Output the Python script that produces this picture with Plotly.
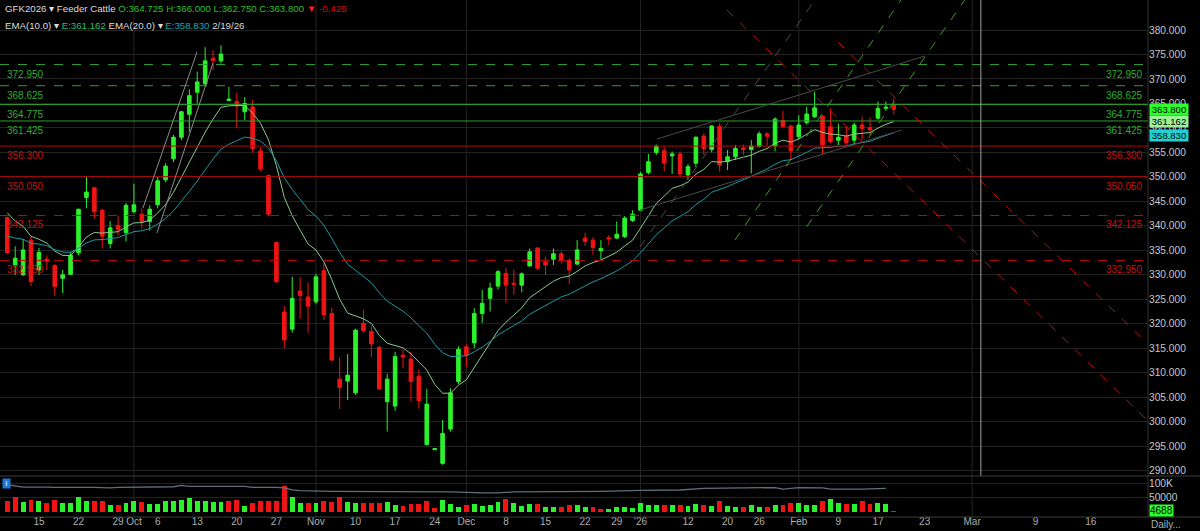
import plotly.graph_objects as go

# ---------------- data ----------------
opens = [341.7,332.0,330.0,337.1,331.0,333.2,331.9,329.3,330.1,334.5,345.8,347.8,343.2,336.4,340.1,338.6,342.9,342.4,340.9,344.3,
         349.4,353.7,358.1,362.8,367.3,369.0,374.2,373.7,365.6,365.4,363.3,364.3,355.3,350.3,336.6,322.4,318.9,326.7,325.5,324.5,
         330.85,322.1,308.7,308.3,305.9,320.1,318.4,315.2,304.1,303.2,313.6,312.8,309.3,295.3,294.3,291.5,298.5,308.2,315.3,316.1,
         322.1,325.2,327.7,330.3,328.3,327.9,331.8,335.5,332.6,333.2,334.3,332.9,332.2,337.5,337.1,334.9,337.6,337.5,337.8,341.1,
         343.2,350.9,355.0,355.35,354.3,354.7,350.4,352.8,358.35,355.6,360.3,353.1,354.1,355.9,355.6,356.2,358.8,356.3,361.5,360.4,
         358.2,361.1,362.3,362.4,360.25,357.5,358.35,357.5,360.6,360.1,362.0,364.0,364.725]
highs = [341.9,335.8,337.3,337.8,335.5,334.0,332.2,331.0,334.7,343.5,350.0,348.0,343.5,341.0,342.0,344.7,348.6,343.6,344.2,350.0,
         352.8,358.6,363.5,367.9,371.5,376.5,375.9,376.9,368.4,367.2,366.3,365.7,356.0,350.5,336.8,323.6,329.6,329.5,328.4,330.2,
         332.4,323.3,313.1,313.8,319.0,322.8,319.6,315.5,309.8,314.3,314.8,314.3,310.7,306.7,294.5,300.4,306.8,315.4,315.8,323.2,
         326.9,328.4,331.0,331.4,331.1,330.5,335.4,335.6,333.6,335.4,334.8,333.4,337.1,338.6,337.7,337.1,338.1,340.9,342.0,343.2,
         351.0,354.7,356.6,356.2,355.2,355.2,352.6,358.3,358.9,360.6,361.0,355.5,356.5,356.6,357.5,359.3,359.2,362.2,363.5,360.6,
         362.6,364.3,367.4,362.6,364.0,360.9,360.3,361.1,362.3,362.2,365.4,365.4,366.0]
lows = [334.2,330.0,329.8,327.7,330.0,331.0,325.7,326.3,330.0,334.0,343.6,341.5,335.4,335.4,338.0,336.8,342.5,339.3,339.0,343.6,
        348.9,353.0,357.5,359.2,365.0,368.6,371.8,373.2,365.6,359.9,361.6,355.0,351.1,342.0,328.4,315.0,318.2,321.1,318.2,324.0,
        320.8,312.4,302.6,304.4,305.5,318.2,313.2,306.5,298.0,302.2,310.9,304.1,302.7,295.2,294.3,291.2,298.0,307.7,311.2,315.0,
        320.2,322.5,327.0,324.3,325.9,326.4,331.8,331.0,330.0,332.0,332.3,328.1,332.0,335.9,334.1,333.2,336.1,337.3,337.5,340.8,
        343.0,350.5,354.5,351.1,350.6,350.0,349.4,352.0,354.5,355.0,351.1,351.4,353.5,354.5,350.7,356.0,356.3,355.2,360.0,353.5,
        357.7,360.7,362.0,354.5,356.9,356.5,356.5,356.5,357.5,358.5,361.7,363.5,362.75]
closes = [334.5,333.4,335.1,328.6,334.6,332.8,327.6,330.0,334.0,343.4,346.9,342.9,337.9,339.6,339.2,344.2,344.3,340.9,343.4,349.2,
          352.2,358.1,363.3,366.6,369.4,373.7,373.8,375.1,365.9,364.5,365.0,355.8,351.6,342.4,328.6,316.7,325.2,325.8,323.6,329.6,
          321.8,312.6,307.0,309.5,318.7,318.6,315.9,306.7,308.7,313.3,313.2,308.2,304.3,303.6,294.5,297.6,305.9,314.8,313.6,322.1,
          324.2,327.3,330.65,327.9,328.1,330.2,334.7,331.35,332.0,334.3,332.9,331.0,335.1,336.8,335.6,335.4,337.3,338.3,341.6,342.4,
          350.6,353.1,356.3,352.8,354.7,350.6,352.1,358.1,355.8,360.4,352.4,354.1,355.8,355.6,356.3,358.8,358.3,361.8,360.3,355.35,
          360.6,362.85,364.1,356.5,357.2,358.1,357.0,360.6,359.9,359.6,364.0,364.225,363.8]
volumes = [39500,51000,35000,42000,39500,32500,42000,32500,30000,51000,39500,37000,39500,25600,23000,32500,37000,35000,28000,28000,
           37000,39500,42000,49000,39500,39500,35000,35000,39500,42000,21000,32500,37000,37000,37000,90700,53500,32500,32500,30000,
           39500,35000,51000,35000,32500,30000,30000,32500,35000,25600,21000,28000,28000,37000,14000,42000,28000,18600,25600,28000,
           21000,25600,35000,44000,30000,21000,28000,28000,18600,18600,18600,23000,23000,18600,16000,11600,11600,18600,16000,14000,
           30000,23000,23000,23000,25600,25600,21000,28000,25600,21000,39500,21000,18600,18600,25600,18600,16000,23000,23000,32500,
           32500,23000,25600,37000,44000,30000,28000,28000,37000,28000,30000,28000,4688]
# open interest line in the volume pane (bar index, value)
oi_idx = [0,1,2,5,6,11,12,13,14,15,16,21,22,23,30,31,34,35,36,37,41,52,53,56,60,62,64,75,80,85,88,94,97,98,99,100,103,104,108,111]
oi_val = [95000,92000,87000,87000,86000,86000,84000,84000,86000,86000,88000,88000,93000,89500,89500,86000,86000,84000,77000,74400,
          72000,72000,70000,70000,66300,66300,70000,72000,75600,76700,82600,85000,85000,80000,82000,85000,84000,80000,80000,82600]

# x-axis labels (bar index positions)
tick_pos = [4,9,14,16,19,24,29,34,39,44,49,54,58,63,68,73,77,80,86,91,95,100,105,110,115.9,121.9,129.9,136.9]
tick_text = ["15","22","29","Oct","6","13","20","27","Nov","10","17","24","Dec","8","15","22","29","'26","12","20","26",
             "Feb","9","17","23","Mar","9","16"]
month_pos = [16,39,58,80,100,121.9]
cursor_pos = 123.0
price_ticks = list(range(290, 381, 5))

# horizontal levels
levels = [372.95, 368.625, 364.775, 361.425, 356.3, 350.05, 342.125, 332.95]
level_labels = ["372.950","368.625","364.775","361.425","356.300","350.050","342.125","332.950"]
level_kind = ["g-dash","g-dash","g-solid","g-solid","r-solid","r-solid","r-dash","r-dash"]

# drawn trend lines: (index0, price0, index1, price1, kind)
trend_lines = [
    (17.14, 343.65, 23.97, 375.51, "lgray"),
    (18.91, 338.55, 25.99, 373.26, "lgray"),
    (82.08, 357.74, 115.94, 374.69, "dgray"),
    (79.94, 343.24, 113.0, 359.58, "dgray"),
    (79.94, 335.69, 102.04, 386.13, "dgray-dash"),
    (91.94, 337.12, 112.9, 386.13, "green-dash"),
    (101.0, 339.83, 120.96, 386.13, "green-dash"),
    (90.93, 384.08, 144.1, 300.22, "red-dash"),
    (104.95, 377.55, 144.1, 315.88, "red-dash"),
]

last_close, ema10_last, ema20_last, last_vol = 363.800, 361.162, 358.830, 4688

# ---------------- derived ----------------
def ema(vals, n, seed):
    a = 2.0 / (n + 1)
    out, e = [], seed
    for v in vals:
        e = a * v + (1 - a) * e
        out.append(e)
    return out

idx = list(range(len(closes)))
ema10 = ema(closes, 10, 344.5)
ema20 = ema(closes, 20, 338.3)
UP, DN = "#2cf22c", "#f01414"
vol_colors = [DN if i == 0 else (UP if closes[i] >= closes[i - 1] else DN) for i in idx]

FONT = "Liberation Sans"
fig = go.Figure()
fig.add_trace(go.Candlestick(
    x=idx, open=opens, high=highs, low=lows, close=closes,
    increasing=dict(line=dict(color=UP, width=1), fillcolor=UP),
    decreasing=dict(line=dict(color=DN, width=1), fillcolor=DN),
    whiskerwidth=0, xaxis="x", yaxis="y", showlegend=False, hoverinfo="skip"))
fig.add_trace(go.Scatter(x=idx, y=ema10, mode="lines", line=dict(color="#86cc8e", width=1),
                         xaxis="x", yaxis="y", showlegend=False, hoverinfo="skip"))
fig.add_trace(go.Scatter(x=idx, y=ema20, mode="lines", line=dict(color="#1b9aa6", width=1),
                         xaxis="x", yaxis="y", showlegend=False, hoverinfo="skip"))
fig.add_trace(go.Bar(x=idx, y=volumes, marker=dict(color=vol_colors, line=dict(width=0)), width=0.62,
                     xaxis="x", yaxis="y2", showlegend=False, hoverinfo="skip"))
fig.add_trace(go.Scatter(x=oi_idx, y=oi_val, mode="lines", line=dict(color="#5d7078", width=1.3),
                         xaxis="x", yaxis="y2", showlegend=False, hoverinfo="skip"))

shapes = []
styles = {
    "g-dash": dict(color="#2f9f2f", width=1, dash="dash"),
    "g-solid": dict(color="#2f9f2f", width=1),
    "r-solid": dict(color="#b00808", width=1),
    "r-dash": dict(color="#c00a0a", width=1, dash="dash"),
}
annots = []
for lv, lab, kind in zip(levels, level_labels, level_kind):
    shapes.append(dict(type="line", xref="paper", x0=0, x1=1, yref="y", y0=lv, y1=lv, line=styles[kind], layer="above"))
    col = "#2fae2f" if kind.startswith("g") else "#c41212"
    for xp, xa in ((0.004, "left"), (0.9975, "right")):
        annots.append(dict(xref="paper", x=xp, xanchor=xa, yref="y", y=lv, yanchor="top", yshift=-2,
                           text=lab, showarrow=False, font=dict(family=FONT, size=10, color=col)))

tl_styles = {
    "lgray": dict(color="#8c8c8c", width=1),
    "dgray": dict(color="#4a4a4a", width=1),
    "dgray-dash": dict(color="#4a4a4a", width=1, dash="dash"),
    "green-dash": dict(color="#3c9e1e", width=1, dash="dash"),
    "red-dash": dict(color="#c41010", width=1, dash="dash"),
}
for x0, y0, x1, y1, kind in trend_lines:
    shapes.append(dict(type="line", xref="x", yref="y", x0=x0, y0=y0, x1=x1, y1=y1, line=tl_styles[kind], layer="above"))

for m in month_pos:
    shapes.append(dict(type="line", xref="x", x0=m, x1=m, yref="paper", y0=0, y1=1,
                       line=dict(color="#242424", width=1), layer="below"))
shapes.append(dict(type="line", xref="x", x0=cursor_pos, x1=cursor_pos, yref="y domain", y0=0, y1=1,
                   line=dict(color="#a0a0a0", width=1), layer="above"))
# pane separators
shapes.append(dict(type="line", xref="paper", x0=0, x1=1.046, yref="paper", y0=0.0793, y1=0.0793,
                   line=dict(color="#3c3c3c", width=1)))
shapes.append(dict(type="line", xref="paper", x0=0, x1=1.046, yref="paper", y0=0.0, y1=0.0,
                   line=dict(color="#3c3c3c", width=1)))
shapes.append(dict(type="line", xref="paper", x0=1, x1=1, yref="paper", y0=0, y1=1,
                   line=dict(color="#333333", width=1)))

# right-axis value boxes (stacked like the reference)
for val, bg, shift in ((last_close, "#2cff2c", 0), (ema10_last, "#9cf09c", 0.5), (ema20_last, "#22d2d2", -1.5)):
    annots.append(dict(xref="paper", x=1, xanchor="left", xshift=1, yref="y", y=val, yanchor="middle", yshift=shift,
                       text=f"{val:.3f}", showarrow=False, bgcolor=bg, borderpad=0, width=38, height=11,
                       font=dict(family=FONT, size=9.5, color="#000")))
annots.append(dict(xref="paper", x=1, xanchor="left", xshift=1, yref="y2", y=last_vol, yanchor="middle",
                   text=f"{last_vol}", showarrow=False, bgcolor="#2cff2c", borderpad=0, height=11,
                   font=dict(family=FONT, size=10, color="#000")))

# header
hdr1 = ("<span style='color:#dcdcdc'>GFK2026 ▾ Feeder Cattle </span>"
        f"<span style='color:#2fbf2f'>O:{opens[-1]:.3f} H:{highs[-1]:.3f} L:{lows[-1]:.3f} C:{closes[-1]:.3f} </span>"
        f"<span style='color:#ff1a1a'>▼</span><span style='color:#d01010'> {closes[-1]-closes[-2]:.3f}</span>")
hdr2 = ("<span style='color:#dcdcdc'>EMA(10.0) ▾ </span>"
        f"<span style='color:#2fbf6a'>E:{ema10_last:.3f} </span>"
        "<span style='color:#dcdcdc'>EMA(20.0) ▾ </span>"
        f"<span style='color:#1aa6b4'>E:{ema20_last:.3f} </span>"
        "<span style='color:#dcdcdc'>2/19/26</span>")
annots.append(dict(xref="paper", yref="paper", x=0.003, y=1, xanchor="left", yanchor="top", yshift=-1,
                   text=hdr1, showarrow=False, font=dict(family=FONT, size=9.7)))
annots.append(dict(xref="paper", yref="paper", x=0.003, y=1, xanchor="left", yanchor="top", yshift=-18,
                   text=hdr2, showarrow=False, font=dict(family=FONT, size=9.7)))
annots.append(dict(xref="paper", yref="paper", x=0.002, y=0.0774, xanchor="left", yanchor="top", yshift=-1,
                   text="i", showarrow=False, bgcolor="#1f78d8", borderpad=0, width=7, height=9,
                   font=dict(family=FONT, size=8, color="#fff")))
annots.append(dict(xref="paper", yref="paper", x=1, y=0, xanchor="left", yanchor="top", xshift=1, yshift=0,
                   text="Daily...", showarrow=False, font=dict(family=FONT, size=10, color="#b0b0b0")))

fig.update_layout(
    width=1200, height=531, margin=dict(l=0, r=52, t=0, b=14, autoexpand=False),
    paper_bgcolor="#000000", plot_bgcolor="#000000",
    showlegend=False, boxgap=0.35, bargap=0,
    xaxis=dict(range=[-0.92, 144.12], anchor="y2", tickmode="array", tickvals=tick_pos, ticktext=tick_text,
               tickfont=dict(family=FONT, size=10, color="#b0b0b0"), showgrid=False, zeroline=False,
               rangeslider=dict(visible=False), ticks="", ticklen=0, ticklabelstandoff=-3,
               showline=False, automargin=False),
    yaxis=dict(domain=[0.0793, 1], range=[288.92, 386.13], side="right", anchor="x",
               tickmode="array", tickvals=price_ticks, ticktext=[f"{v:.3f}" for v in price_ticks],
               tickfont=dict(family=FONT, size=10.2, color="#c8c8c8"),
               gridcolor="#222222", gridwidth=1, zeroline=False, ticks="", showline=False, automargin=False),
    yaxis2=dict(domain=[0, 0.0774], range=[-17400, 122000], side="right", anchor="x",
                tickmode="array", tickvals=[50000, 100000], ticktext=["50000", "100K"],
                tickfont=dict(family=FONT, size=10.2, color="#c8c8c8"),
                gridcolor="#222222", zeroline=False, ticks="", showline=False, automargin=False),
    shapes=shapes, annotations=annots,
)
fig.write_html("out.html", config={"displayModeBar": False, "staticPlot": True},
               post_script="document.body.style.margin='0';document.body.style.padding='0';"
                           "document.body.style.background='#000';document.body.style.overflow='hidden';")
